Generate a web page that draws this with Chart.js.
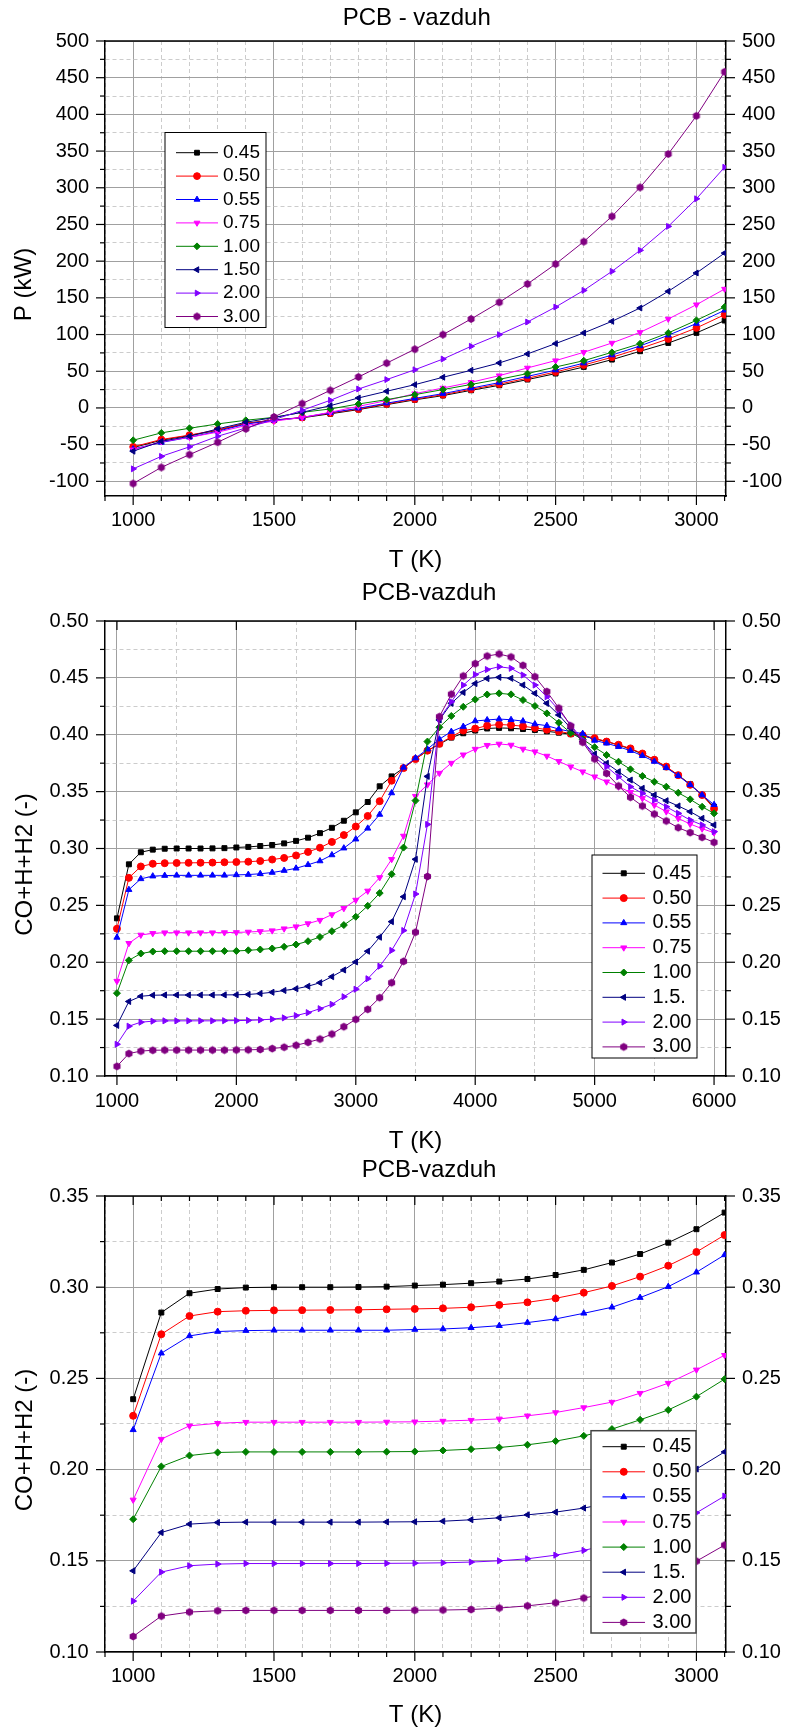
<!DOCTYPE html>
<html>
<head>
<meta charset="utf-8">
<script src="https://cdn.jsdelivr.net/npm/chart.js"></script>
<style>
    html, body { margin: 0; padding: 0; background: #fff; }
    body { width: 785px; height: 1731px; position: relative; overflow: hidden; }
    canvas { position: absolute; left: 0; }
</style>
</head>
<body>
<canvas id="chart__power" width="785" height="578" style="top:0px"></canvas>
<canvas id="chart__gas-wide" width="785" height="578" style="top:578px"></canvas>
<canvas id="chart__gas-zoom" width="785" height="575" style="top:1156px"></canvas>
<script>
// temperatures (K)
const tempsShort = [1000, 1100, 1200, 1300, 1400, 1500, 1600, 1700, 1800, 1900, 2000,
    2100, 2200, 2300, 2400, 2500, 2600, 2700, 2800, 2900, 3000, 3100]
const tempsLong = [1000, 1100, 1200, 1300, 1400, 1500, 1600, 1700, 1800, 1900,
    2000, 2100, 2200, 2300, 2400, 2500, 2600, 2700, 2800, 2900,
    3000, 3100, 3200, 3300, 3400, 3500, 3600, 3700, 3800, 3900,
    4000, 4100, 4200, 4300, 4400, 4500, 4600, 4700, 4800, 4900,
    5000, 5100, 5200, 5300, 5400, 5500, 5600, 5700, 5800, 5900, 6000]

// legend labels
const powerLabels = ['0.45', '0.50', '0.55', '0.75', '1.00', '1.50', '2.00', '3.00']
const gasLabels = ['0.45', '0.50', '0.55', '0.75', '1.00', '1.5.', '2.00', '3.00']

// P (kW), 1000..3100 K
const power045 = [-54, -44, -37.5, -30.5, -21, -16.5, -13.5, -8, -2.3, 4.5, 11, 16.8, 24, 30.8, 38.6, 46.8, 55.8, 65.8, 77.2, 88.5, 102.2, 119]
const power050 = [-53, -43, -37, -30, -21, -16.5, -13, -7, -1.5, 5.5, 12, 18, 25.5, 32.5, 40.5, 49, 58.5, 69, 81, 94, 109, 127]
const power055 = [-56, -47, -40, -31.8, -22, -17, -13, -6.5, -0.5, 6.5, 13, 19.5, 27, 34.5, 43, 51.5, 61, 72, 84.5, 99, 115, 133]
const power075 = [-57, -46, -40, -33, -24, -18, -13, -5.9, 2.2, 10, 19.5, 27.2, 35, 44, 54.5, 64.5, 75.8, 88.5, 103, 121.2, 140.7, 162]
const power100 = [-44, -34, -27.7, -21.8, -16.8, -12.8, -6, -1.4, 5.4, 11.3, 18.1, 25, 32, 39, 46.8, 55.8, 64.4, 75.8, 87.6, 102.2, 119.4, 137.6]
const power150 = [-59, -45.5, -38.6, -28.6, -19.5, -13, -6, 3.1, 13.6, 22.7, 31.7, 41.8, 51.3, 61.3, 73.6, 87.7, 102.2, 118, 136.2, 158.9, 183.9, 211]
const power200 = [-83, -66, -53, -38.6, -27.3, -16, -3.2, 10.4, 25.8, 38.6, 52, 66.6, 84, 99.9, 117.1, 137.5, 160.2, 186.1, 214.7, 247.4, 285, 328]
const power300 = [-103, -81, -63.6, -46.8, -28.6, -12.3, 5.9, 24, 42.2, 61, 80, 99.9, 121.2, 143.9, 168.9, 196.1, 226.6, 261, 300.5, 346, 398, 458]

// CO+H+H2, 1000..3100 K
const gasCool045 = [0.2386, 0.2861, 0.2967, 0.2990, 0.2998, 0.3000, 0.3000, 0.3000, 0.3001, 0.3003, 0.3009, 0.3014, 0.3022, 0.3031, 0.3045, 0.3067, 0.3095, 0.3135, 0.3182, 0.3244, 0.3318, 0.3409]
const gasCool050 = [0.2295, 0.2742, 0.2842, 0.2866, 0.2871, 0.2873, 0.2874, 0.2875, 0.2876, 0.2879, 0.2881, 0.2884, 0.2890, 0.2903, 0.2917, 0.2939, 0.2970, 0.3007, 0.3058, 0.3118, 0.3193, 0.3286]
const gasCool055 = [0.2218, 0.2638, 0.2733, 0.2757, 0.2762, 0.2764, 0.2764, 0.2764, 0.2764, 0.2764, 0.2768, 0.2771, 0.2778, 0.2789, 0.2806, 0.2826, 0.2857, 0.2890, 0.2943, 0.3003, 0.3082, 0.3177]
const gasCool075 = [0.1834, 0.2167, 0.2240, 0.2254, 0.2260, 0.2260, 0.2260, 0.2260, 0.2260, 0.2261, 0.2262, 0.2266, 0.2271, 0.2278, 0.2295, 0.2313, 0.2340, 0.2370, 0.2419, 0.2474, 0.2547, 0.2627]
const gasCool100 = [0.1728, 0.2017, 0.2077, 0.2094, 0.2097, 0.2097, 0.2097, 0.2097, 0.2097, 0.2098, 0.2099, 0.2105, 0.2112, 0.2121, 0.2136, 0.2156, 0.2185, 0.2222, 0.2273, 0.2327, 0.2400, 0.2496]
const gasCool150 = [0.1445, 0.1655, 0.1701, 0.1710, 0.1712, 0.1712, 0.1712, 0.1712, 0.1712, 0.1713, 0.1714, 0.1717, 0.1725, 0.1736, 0.1752, 0.1767, 0.1789, 0.1820, 0.1873, 0.1932, 0.2003, 0.2097]
const gasCool200 = [0.1279, 0.1438, 0.1473, 0.1482, 0.1485, 0.1485, 0.1485, 0.1485, 0.1485, 0.1486, 0.1487, 0.1489, 0.1493, 0.1500, 0.1511, 0.1531, 0.1557, 0.1592, 0.1630, 0.1697, 0.1763, 0.1855]
const gasCool300 = [0.1085, 0.1197, 0.1219, 0.1226, 0.1228, 0.1228, 0.1228, 0.1228, 0.1228, 0.1228, 0.1229, 0.1230, 0.1233, 0.1241, 0.1253, 0.1270, 0.1296, 0.1325, 0.1369, 0.1433, 0.1498, 0.1586]

// CO+H+H2, 3200..6000 K
const gasHot045 = [0.3547, 0.3634, 0.3707, 0.3786, 0.3860, 0.3917, 0.3975, 0.4013, 0.4037, 0.4055, 0.4060, 0.4057, 0.4050, 0.4042, 0.4030, 0.4018, 0.4005, 0.3990, 0.3963, 0.3940, 0.3910, 0.3875, 0.3830, 0.3780, 0.3715, 0.3645, 0.3565, 0.3470, 0.3367]
const gasHot050 = [0.3416, 0.3596, 0.3707, 0.3786, 0.3860, 0.3920, 0.3984, 0.4037, 0.4054, 0.4080, 0.4090, 0.4085, 0.4075, 0.4060, 0.4045, 0.4030, 0.4010, 0.3995, 0.3970, 0.3940, 0.3912, 0.3880, 0.3835, 0.3780, 0.3720, 0.3645, 0.3560, 0.3470, 0.3350]
const gasHot055 = [0.3299, 0.3488, 0.3713, 0.3795, 0.3873, 0.3961, 0.4028, 0.4072, 0.4121, 0.4130, 0.4138, 0.4132, 0.4120, 0.4094, 0.4080, 0.4050, 0.4027, 0.4010, 0.3950, 0.3925, 0.3895, 0.3860, 0.3815, 0.3765, 0.3710, 0.3640, 0.3560, 0.3470, 0.3385]
const gasHot075 = [0.2745, 0.2905, 0.3110, 0.3460, 0.3561, 0.3663, 0.3751, 0.3824, 0.3874, 0.3908, 0.3919, 0.3910, 0.3875, 0.3851, 0.3813, 0.3766, 0.3719, 0.3675, 0.3631, 0.3587, 0.3543, 0.3494, 0.3441, 0.3382, 0.3324, 0.3265, 0.3215, 0.3174, 0.3139]
const gasHot100 = [0.2608, 0.2774, 0.3008, 0.3421, 0.3940, 0.4066, 0.4165, 0.4246, 0.4310, 0.4354, 0.4364, 0.4355, 0.4305, 0.4253, 0.4188, 0.4106, 0.4015, 0.3960, 0.3890, 0.3822, 0.3763, 0.3696, 0.3637, 0.3587, 0.3543, 0.3490, 0.3432, 0.3367, 0.3309]
const gasHot150 = [0.2220, 0.2357, 0.2576, 0.2905, 0.3634, 0.4130, 0.4276, 0.4372, 0.4450, 0.4494, 0.4505, 0.4496, 0.4437, 0.4364, 0.4276, 0.4174, 0.4057, 0.3939, 0.3830, 0.3749, 0.3675, 0.3602, 0.3529, 0.3470, 0.3420, 0.3374, 0.3324, 0.3265, 0.3207]
const gasHot200 = [0.1965, 0.2104, 0.2279, 0.2600, 0.3212, 0.4140, 0.4290, 0.4436, 0.4529, 0.4573, 0.4598, 0.4584, 0.4525, 0.4437, 0.4335, 0.4218, 0.4086, 0.3954, 0.3800, 0.3720, 0.3631, 0.3543, 0.3485, 0.3426, 0.3367, 0.3309, 0.3250, 0.3207, 0.3148]
const gasHot300 = [0.1689, 0.1820, 0.2008, 0.2264, 0.2754, 0.4159, 0.4357, 0.4517, 0.4625, 0.4692, 0.4710, 0.4684, 0.4610, 0.4510, 0.4380, 0.4235, 0.4077, 0.3934, 0.3787, 0.3660, 0.3550, 0.3450, 0.3374, 0.3303, 0.3242, 0.3183, 0.3140, 0.3098, 0.3054]

// labelled (major) ticks
const tempTicksShort = [1000, 1500, 2000, 2500, 3000]
const tempTicksLong = [1000, 2000, 3000, 4000, 5000, 6000]
const powerTicks = [-100, -50, 0, 50, 100, 150, 200, 250, 300, 350, 400, 450, 500]
const gasTicksWide = [0.10, 0.15, 0.20, 0.25, 0.30, 0.35, 0.40, 0.45, 0.50]
const gasTicksZoom = [0.10, 0.15, 0.20, 0.25, 0.30, 0.35]

const FONT = '"Liberation Sans", Arial, Helvetica, sans-serif'
const TICK_SIZE = 20
const seriesColors = ['#000000', '#ff0000', '#0000ff', '#ff00ff', '#008000', '#000080', '#8000ff', '#800080']
const markerShapes = ['rect', 'circle', 'triangle', 'triangle', 'rectRot', 'triangle', 'triangle', 'hexagon']
const markerTurns = [0, 0, 0, 180, 0, 270, 90, 0]

// small canvas used as the hexagon point style
function hexagonMarker(r, color) {
    const c = document.createElement('canvas')
    const s = Math.ceil(r * 2 + 2)
    c.width = s
    c.height = s
    const g = c.getContext('2d')
    g.fillStyle = color
    g.beginPath()
    for (let k = 0; k < 6; k++) {
        const a = -Math.PI / 2 + k * Math.PI / 3
        g.lineTo(s / 2 + r * Math.cos(a), s / 2 + r * Math.sin(a))
    }
    g.closePath()
    g.fill()
    return c
}

function buildSets(labels, series, temps, radius) {
    return series.map((values, i) => ({
        label: labels[i],
        data: values.map((v, j) => ({ x: temps[j], y: v })),
        borderColor: seriesColors[i],
        backgroundColor: seriesColors[i],
        borderWidth: 1,
        pointRadius: radius,
        pointBorderWidth: markerShapes[i] === 'hexagon' ? 0 : 1,
        pointStyle: markerShapes[i] === 'hexagon' ? hexagonMarker(radius + 0.6, seriesColors[i]) : markerShapes[i],
        pointRotation: markerTurns[i],
        tension: 0,
        fill: false,
        order: series.length - i
    }))
}

// every tick position (minor step) inside the range
function stepValues(min, max, step) {
    const out = []
    const first = Math.ceil(min / step - 1e-9)
    const last = Math.floor(max / step + 1e-9)
    for (let k = first; k <= last; k++) out.push(+(k * step).toFixed(6))
    return out
}

function buildAxis(cfg) {
    const vals = stepValues(cfg.min, cfg.max, cfg.minor)
    const isMajor = v => cfg.majors.some(m => Math.abs(m - v) < 1e-9)
    const horizontal = cfg.position === 'bottom'
    const axis = {
        type: 'linear',
        position: cfg.position,
        min: cfg.min,
        max: cfg.max,
        bounds: 'data',
        afterBuildTicks: scale => { scale.ticks = vals.map(v => ({ value: v, major: isMajor(v) })) },
        afterFit: scale => { if (horizontal) scale.height = cfg.size; else scale.width = cfg.size },
        ticks: {
            autoSkip: false,
            maxRotation: 0,
            minRotation: 0,
            padding: cfg.pad,
            color: '#000',
            font: { family: FONT, size: TICK_SIZE },
            callback: (value, i, ticks) => ticks[i].major ? cfg.format(value) : ''
        },
        grid: {
            drawOnChartArea: cfg.gridOn,
            drawTicks: false,
            lineWidth: 1,
            color: c => c.tick && c.tick.major ? '#a0a0a0' : '#cccccc'
        },
        border: {
            display: true,
            color: '#000',
            width: 1.5,
            dash: c => c.tick && !c.tick.major ? [4, 3] : []
        }
    }
    if (cfg.title) {
        axis.title = {
            display: true,
            text: cfg.title,
            color: '#000',
            font: { family: FONT, size: 24, lineHeight: 1 },
            padding: { top: 0, bottom: cfg.titlePad }
        }
    }
    return axis
}

// frame: top edge, tick marks, chart title, y title and the boxed legend
const framePlugin = {
    id: 'frame',
    afterDraw(chart, args, o) {
        const { ctx, chartArea: area, scales } = chart
        const seg = (x1, y1, x2, y2) => { ctx.beginPath(); ctx.moveTo(x1, y1); ctx.lineTo(x2, y2); ctx.stroke() }
        ctx.save()
        ctx.strokeStyle = '#000'
        ctx.lineWidth = 1.5
        seg(area.left, area.top, area.right, area.top)
        ctx.lineWidth = 1.2
        scales.x.ticks.forEach(t => {
            const px = scales.x.getPixelForValue(t.value)
            const len = t.major ? 9 : 5
            seg(px, area.bottom, px, area.bottom + len)
            if (o.topTicks === 'all' || (o.topTicks === 'major' && t.major)) seg(px, area.top, px, area.top + len)
        })
        scales.y.ticks.forEach(t => {
            const py = scales.y.getPixelForValue(t.value)
            const len = t.major ? 9 : 5
            seg(area.left - len, py, area.left, py)
            seg(area.right, py, area.right + len, py)
        })

        ctx.fillStyle = '#000'
        ctx.font = '24px ' + FONT
        ctx.textAlign = 'center'
        ctx.textBaseline = 'middle'
        ctx.fillText(o.title, o.titleX, o.titleY)
        ctx.save()
        ctx.translate(o.yTitleX, (area.top + area.bottom) / 2 + o.yTitleShift)
        ctx.rotate(-Math.PI / 2)
        ctx.fillText(o.yTitle, 0, 0)
        ctx.restore()

        const lg = o.legend
        ctx.fillStyle = '#fff'
        ctx.fillRect(lg.x, lg.y, lg.w, lg.h)
        ctx.strokeStyle = lg.edge
        ctx.lineWidth = lg.edgeWidth
        ctx.strokeRect(lg.x, lg.y, lg.w, lg.h)
        ctx.font = lg.fontSize + 'px ' + FONT
        ctx.textAlign = 'left'
        chart.data.datasets.forEach((ds, i) => {
            const y = lg.firstY + i * lg.gap
            ctx.strokeStyle = ds.borderColor
            ctx.fillStyle = ds.backgroundColor
            ctx.lineWidth = 1
            seg(lg.lineX1, y, lg.lineX2, y)
            Chart.helpers.drawPoint(ctx, {
                pointStyle: ds.pointStyle,
                rotation: ds.pointRotation,
                radius: ds.pointRadius,
                borderWidth: ds.pointBorderWidth
            }, (lg.lineX1 + lg.lineX2) / 2, y)
            ctx.fillStyle = '#000'
            ctx.fillText(ds.label, lg.textX, y)
        })
        ctx.restore()
    }
}

function baseOptions(plotTop, scales, frame) {
    return {
        responsive: false,
        animation: false,
        devicePixelRatio: 1,
        layout: { padding: { top: plotTop, left: 0, right: 0, bottom: 0 } },
        scales: scales,
        plugins: {
            legend: { display: false },
            tooltip: { enabled: false },
            frame: frame
        }
    }
}

const intLabel = v => String(v)
const fracLabel = v => v.toFixed(2)

// chart 1: power
new Chart(document.getElementById('chart__power'), {
    type: 'line',
    data: {
        datasets: buildSets(powerLabels,
            [power045, power050, power055, power075, power100, power150, power200, power300],
            tempsShort, 3.4)
    },
    options: baseOptions(41, {
        x: buildAxis({ position: 'bottom', min: 900, max: 3105, minor: 100, majors: tempTicksShort, format: intLabel,
            size: 82, pad: 12.2, gridOn: true, title: 'T (K)', titlePad: 6 }),
        y: buildAxis({ position: 'left', min: -120, max: 500, minor: 25, majors: powerTicks, format: intLabel,
            size: 105, pad: 16, gridOn: true }),
        y2: buildAxis({ position: 'right', min: -120, max: 500, minor: 25, majors: powerTicks, format: intLabel,
            size: 59, pad: 16, gridOn: false })
    }, {
        title: 'PCB - vazduh', titleX: 416.7, titleY: 18,
        yTitle: 'P (kW)', yTitleX: 24, yTitleShift: 16,
        topTicks: 'none',
        legend: { x: 165, y: 132.5, w: 101, h: 195, edge: '#000', edgeWidth: 1, fontSize: 19,
            firstY: 152.7, gap: 23.4, lineX1: 176, lineX2: 218, textX: 223 }
    }),
    plugins: [framePlugin]
})

// chart 2: CO+H+H2 over the full range
new Chart(document.getElementById('chart__gas-wide'), {
    type: 'line',
    data: {
        datasets: buildSets(gasLabels, [
            gasCool045.concat(gasHot045), gasCool050.concat(gasHot050), gasCool055.concat(gasHot055),
            gasCool075.concat(gasHot075), gasCool100.concat(gasHot100), gasCool150.concat(gasHot150),
            gasCool200.concat(gasHot200), gasCool300.concat(gasHot300)
        ], tempsLong, 3.5)
    },
    options: baseOptions(43, {
        x: buildAxis({ position: 'bottom', min: 900, max: 6100, minor: 500, majors: tempTicksLong, format: intLabel,
            size: 80, pad: 13.9, gridOn: true, title: 'T (K)', titlePad: 3 }),
        y: buildAxis({ position: 'left', min: 0.1, max: 0.5, minor: 0.025, majors: gasTicksWide, format: fracLabel,
            size: 105, pad: 16.5, gridOn: true }),
        y2: buildAxis({ position: 'right', min: 0.1, max: 0.5, minor: 0.025, majors: gasTicksWide, format: fracLabel,
            size: 59, pad: 16, gridOn: false })
    }, {
        title: 'PCB-vazduh', titleX: 429, titleY: 15,
        yTitle: 'CO+H+H2 (-)', yTitleX: 25, yTitleShift: 16,
        topTicks: 'major',
        legend: { x: 592, y: 277, w: 105, h: 203, edge: '#000', edgeWidth: 1, fontSize: 20,
            firstY: 295.3, gap: 24.8, lineX1: 602.5, lineX2: 645, textX: 652.5 }
    }),
    plugins: [framePlugin]
})

// chart 3: CO+H+H2 zoomed to 1000..3100 K
new Chart(document.getElementById('chart__gas-zoom'), {
    type: 'line',
    data: {
        datasets: buildSets(gasLabels,
            [gasCool045, gasCool050, gasCool055, gasCool075, gasCool100, gasCool150, gasCool200, gasCool300],
            tempsShort, 3.5)
    },
    options: baseOptions(40, {
        x: buildAxis({ position: 'bottom', min: 900, max: 3105, minor: 100, majors: tempTicksShort, format: intLabel,
            size: 79, pad: 12.9, gridOn: true, title: 'T (K)', titlePad: 4 }),
        y: buildAxis({ position: 'left', min: 0.1, max: 0.35, minor: 0.025, majors: gasTicksZoom, format: fracLabel,
            size: 105, pad: 16.5, gridOn: true }),
        y2: buildAxis({ position: 'right', min: 0.1, max: 0.35, minor: 0.025, majors: gasTicksZoom, format: fracLabel,
            size: 59, pad: 16, gridOn: false })
    }, {
        title: 'PCB-vazduh', titleX: 429, titleY: 14,
        yTitle: 'CO+H+H2 (-)', yTitleX: 25, yTitleShift: 16,
        topTicks: 'all',
        legend: { x: 591, y: 274.7, w: 105, h: 202.3, edge: '#444', edgeWidth: 1.5, fontSize: 20,
            firstY: 290.7, gap: 25.1, lineX1: 602.5, lineX2: 645, textX: 652.5 }
    }),
    plugins: [framePlugin]
})
</script>
</body>
</html>
